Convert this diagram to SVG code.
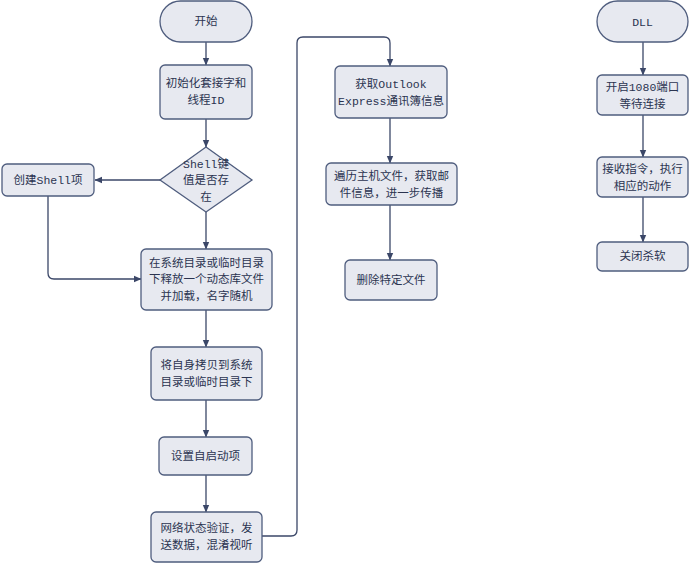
<svg xmlns="http://www.w3.org/2000/svg" width="690" height="563" viewBox="0 0 690 563">
<defs>
<marker id="ah" viewBox="0 0 8 8" refX="7" refY="4" markerWidth="8" markerHeight="8" markerUnits="userSpaceOnUse" orient="auto">
<path d="M0,0.8 L7.5,4 L0,7.2 Z" fill="#3b4768"/>
</marker>
</defs>
<style>
.n{fill:#e7e9f0;stroke:#4f5d7e;stroke-width:1.3}
.t{font-family:"Liberation Mono","Noto Sans CJK SC",monospace;font-size:11.5px;fill:#2b3450;text-anchor:middle;dominant-baseline:central}
.c{fill:none;stroke:#3b4768;stroke-width:1.3;marker-end:url(#ah)}
</style>
<rect width="690" height="563" fill="#ffffff"/>
<g id="connectors">
<path class="c" d="M206,42 V65"/>
<path class="c" d="M206,119 V147"/>
<path class="c" d="M160,180 H95"/>
<path class="c" d="M48,196 V273 Q48,279 54,279 H141"/>
<path class="c" d="M206,212 V249"/>
<path class="c" d="M206,310 V347"/>
<path class="c" d="M206,400 V437"/>
<path class="c" d="M206,475 V512"/>
<path class="c" d="M262,536 H291 Q297,536 297,530 V43 Q297,37 303,37 H384 Q390,37 390,43 V66"/>
<path class="c" d="M390,118 V163"/>
<path class="c" d="M390,205 V260"/>
<path class="c" d="M643,42 V75"/>
<path class="c" d="M643,115 V157"/>
<path class="c" d="M643,197 V242"/>
</g>
<g id="start">
<rect class="n" x="160" y="1" width="92" height="41" rx="20.5"/>
<text class="t" x="206" y="21.5">开始</text>
</g>
<g id="init">
<rect class="n" x="160" y="65" width="92" height="54" rx="5"/>
<text class="t" x="206" y="83.5">初始化套接字和</text>
<text class="t" x="206" y="100.5">线程ID</text>
</g>
<g id="decision">
<polygon class="n" points="206,147 252,180 206,212 160,180"/>
<text class="t" x="206" y="164">Shell键</text>
<text class="t" x="206" y="180.5">值是否存</text>
<text class="t" x="206" y="197">在</text>
</g>
<g id="create-shell">
<rect class="n" x="2" y="164" width="92" height="32" rx="5"/>
<text class="t" x="48" y="180.5">创建Shell项</text>
</g>
<g id="release-dll">
<rect class="n" x="141" y="249" width="131" height="61" rx="5"/>
<text class="t" x="206.5" y="263">在系统目录或临时目录</text>
<text class="t" x="206.5" y="279.5">下释放一个动态库文件</text>
<text class="t" x="206.5" y="296">并加载，名字随机</text>
</g>
<g id="copy-self">
<rect class="n" x="151" y="347" width="111" height="53" rx="5"/>
<text class="t" x="206.5" y="365">将自身拷贝到系统</text>
<text class="t" x="206.5" y="382">目录或临时目录下</text>
</g>
<g id="autostart">
<rect class="n" x="159" y="437" width="93" height="38" rx="5"/>
<text class="t" x="205.5" y="456">设置自启动项</text>
</g>
<g id="network">
<rect class="n" x="151" y="512" width="111" height="50" rx="5"/>
<text class="t" x="206.5" y="528">网络状态验证，发</text>
<text class="t" x="206.5" y="545">送数据，混淆视听</text>
</g>
<g id="outlook">
<rect class="n" x="335" y="66" width="112" height="52" rx="5"/>
<text class="t" x="391" y="84">获取Outlook</text>
<text class="t" x="391" y="101">Express通讯簿信息</text>
</g>
<g id="traverse">
<rect class="n" x="326" y="163" width="131" height="42" rx="5"/>
<text class="t" x="391.5" y="176">遍历主机文件，获取邮</text>
<text class="t" x="391.5" y="193">件信息，进一步传播</text>
</g>
<g id="delete">
<rect class="n" x="345" y="260" width="92" height="40" rx="5"/>
<text class="t" x="391" y="280">删除特定文件</text>
</g>
<g id="dll">
<rect class="n" x="597" y="1" width="91" height="41" rx="20.5"/>
<text class="t" x="642.5" y="22">DLL</text>
</g>
<g id="port">
<rect class="n" x="597" y="75" width="91" height="40" rx="5"/>
<text class="t" x="642.5" y="87">开启1080端口</text>
<text class="t" x="642.5" y="104">等待连接</text>
</g>
<g id="receive">
<rect class="n" x="597" y="157" width="91" height="40" rx="5"/>
<text class="t" x="642.5" y="169">接收指令，执行</text>
<text class="t" x="642.5" y="186">相应的动作</text>
</g>
<g id="kill-av">
<rect class="n" x="597" y="242" width="91" height="29" rx="5"/>
<text class="t" x="642.5" y="256.5">关闭杀软</text>
</g>
</svg>
